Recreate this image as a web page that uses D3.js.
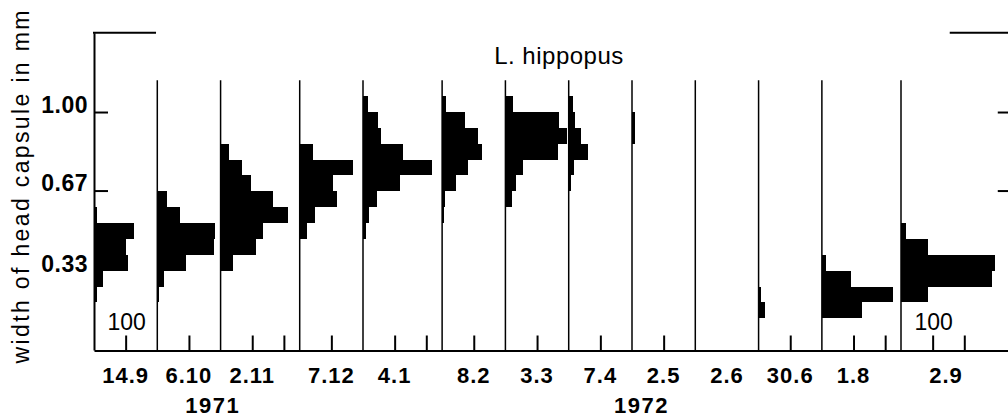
<!DOCTYPE html>
<html>
<head>
<meta charset="utf-8">
<script src="https://cdnjs.cloudflare.com/ajax/libs/d3/7.8.5/d3.min.js"></script>
<style>
  body { margin: 0; background: #fff; }
  text { font-family: "Liberation Sans", Arial, Helvetica, sans-serif; fill: #000; }
</style>
</head>
<body>
<div id="chart"></div>
<script>
// sampling dates (day.month)
var dates = ["14.9", "6.10", "2.11", "7.12", "4.1", "8.2", "3.3", "7.4", "2.5", "2.6", "30.6", "1.8", "2.9"];
// where each histogram's zero line sits on the shared count axis
var offsets = [0, 200, 400, 650, 850, 1100, 1300, 1500, 1700, 1900, 2100, 2300, 2550];
// how many 100-marks follow each zero line
var tickCounts = [1, 1, 2, 1, 2, 1, 1, 1, 1, 0, 1, 2, 2];
// size classes are 1/15 mm wide; firstClass = index of lowest filled class
var firstClass = [3, 3, 5, 7, 7, 8, 9, 10, 13, 0, 2, 2, 3];
var counts = [
  [10, 28, 106, 100, 127, 11],
  [6, 22, 92, 178, 181, 73, 32],
  [38, 111, 133, 213, 165, 95, 67, 25],
  [22, 48, 117, 105, 168, 42],
  [10, 19, 44, 117, 219, 127, 57, 48, 16],
  [6, 10, 44, 83, 127, 114, 73, 13],
  [22, 35, 54, 165, 194, 168, 25],
  [6, 16, 60, 38, 19, 13],
  [8, 8],
  [],
  [20, 8],
  [126, 224, 92, 13],
  [85, 287, 297, 85, 15]
];
var years = ["1971", "1972"];
var yTicks = [0.33, 0.67, 1.00];
var species = "L. hippopus";

var width = 1008, height = 419;
var classW = 1 / 15;

var svg = d3.select("#chart").append("svg")
  .attr("width", width).attr("height", height)
  .style("display", "block");

var xs = d3.scaleLinear().domain([0, 2550]).range([94, 901]);
var ys = d3.scaleLinear().domain([0, 4 / 3]).range([350, 32.7]);
var axisEnd = 2900;

// histograms
var bars = [];
counts.forEach(function (c, i) {
  c.forEach(function (n, j) {
    bars.push({ panel: i, cls: firstClass[i] + j, n: n });
  });
});
svg.append("g")
  .selectAll("rect")
  .data(bars)
  .enter()
  .append("rect")
  .attr("x", d => xs(offsets[d.panel]))
  .attr("width", d => xs(offsets[d.panel] + d.n) - xs(offsets[d.panel]))
  .attr("y", d => ys((d.cls + 1) * classW))
  .attr("height", d => ys(d.cls * classW) - ys((d.cls + 1) * classW))
  .attr("fill", "#000")
  .attr("shape-rendering", "crispEdges");

// zero lines of the single histograms
svg.append("g")
  .selectAll("line")
  .data(offsets.slice(1))
  .enter()
  .append("line")
  .attr("x1", d => xs(d)).attr("x2", d => xs(d))
  .attr("y1", ys(17 * classW)).attr("y2", ys(0))
  .attr("stroke", "#000").attr("stroke-width", 1.5);

// count axis with the 100 marks
var tickVals = [];
offsets.forEach(function (o, i) {
  for (var k = 1; k <= tickCounts[i]; k++) tickVals.push(o + 100 * k);
});
var xAxis = svg.append("g")
  .attr("transform", "translate(0," + (ys(0) + 0.5) + ")")
  .call(d3.axisBottom(d3.scaleLinear().domain([0, axisEnd]).range([xs(0), xs(axisEnd)]))
    .tickValues(tickVals).tickSize(-15).tickSizeOuter(0).tickFormat(""));
xAxis.selectAll("path, line").attr("stroke", "#000").attr("stroke-width", 2);

// left axis
var yAxis = svg.append("g")
  .attr("transform", "translate(" + xs(0) + ",0)")
  .call(d3.axisLeft(ys).tickValues(yTicks).tickSize(-14).tickSizeOuter(0)
    .tickPadding(6).tickFormat(d3.format(".2f")));
yAxis.selectAll("path, line").attr("stroke", "#000").attr("stroke-width", 2);
yAxis.selectAll(".tick line").filter(d => d < 0.5).remove();
yAxis.selectAll(".tick text")
  .attr("dy", 0)
  .style("font-size", "23px").style("font-weight", "bold").style("letter-spacing", "0.5px")
  .style("font-family", "'Liberation Sans', Arial, sans-serif").attr("fill", "#000");

// right axis (sits just outside the picture)
var rAxis = svg.append("g")
  .attr("transform", "translate(" + xs(axisEnd) + ",0)")
  .call(d3.axisRight(ys).tickValues(yTicks.filter(v => v > 0.5)).tickSize(-14).tickSizeOuter(0).tickFormat(""));
rAxis.selectAll("path, line").attr("stroke", "#000").attr("stroke-width", 2);

// top brackets
svg.append("line")
  .attr("x1", xs(0) - 1).attr("x2", xs(196))
  .attr("y1", ys(4 / 3)).attr("y2", ys(4 / 3))
  .attr("stroke", "#000").attr("stroke-width", 2);
svg.append("line")
  .attr("x1", xs(axisEnd - 196)).attr("x2", xs(axisEnd))
  .attr("y1", ys(4 / 3)).attr("y2", ys(4 / 3))
  .attr("stroke", "#000").attr("stroke-width", 2);

// date labels
svg.append("g")
  .selectAll("text")
  .data(dates)
  .enter()
  .append("text")
  .attr("x", (d, i) => xs(offsets[i] + (i == dates.length - 1 ? 142 : 100)))
  .attr("y", 383)
  .attr("text-anchor", "middle")
  .style("font-size", "22px").style("font-weight", "bold").style("letter-spacing", "1px")
  .text(d => d);

// year labels
svg.append("g")
  .selectAll("text")
  .data(years)
  .enter()
  .append("text")
  .attr("x", (d, i) => xs(i == 0 ? 375 : 1730))
  .attr("y", 413)
  .attr("text-anchor", "middle")
  .style("font-size", "22px").style("font-weight", "bold").style("letter-spacing", "1.5px")
  .text(d => d);

// scale labels "100"
svg.append("g")
  .selectAll("text")
  .data([0, dates.length - 1])
  .enter()
  .append("text")
  .attr("x", d => xs(offsets[d] + 100) + 1)
  .attr("y", 330)
  .attr("text-anchor", "middle")
  .style("font-size", "23px")
  .text("100");

// species name
svg.append("text")
  .attr("x", 559).attr("y", 64)
  .attr("text-anchor", "middle")
  .style("font-size", "24px").style("letter-spacing", "0.5px")
  .text(species);

// y axis title
svg.append("text")
  .attr("transform", "translate(29,187) rotate(-90)")
  .attr("text-anchor", "middle")
  .attr("textLength", 353).attr("lengthAdjust", "spacing")
  .style("font-size", "23px")
  .text("width of head capsule in mm");
</script>
</body>
</html>
